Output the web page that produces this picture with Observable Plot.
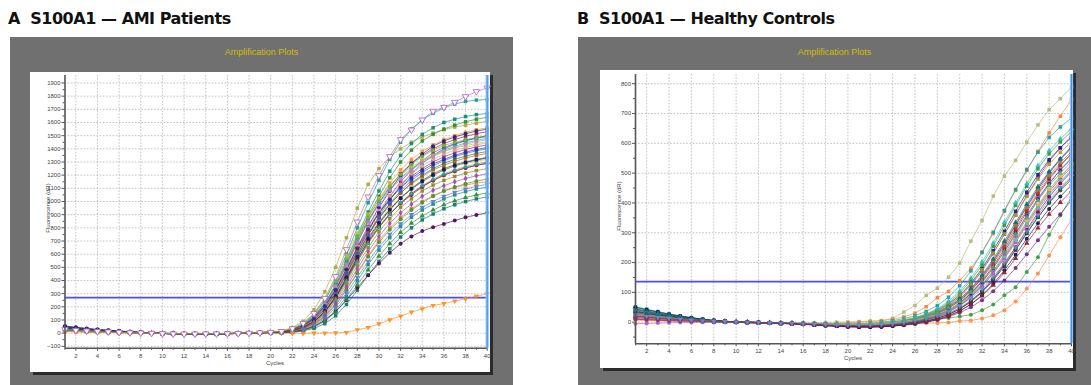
<!DOCTYPE html>
<html><head><meta charset="utf-8">
<script src="https://cdn.jsdelivr.net/npm/d3@7"></script>
<script src="https://cdn.jsdelivr.net/npm/@observablehq/plot@0.6"></script>
<style>
body{margin:0;width:1091px;height:385px;overflow:hidden;background:#fff;position:relative;font-family:"Liberation Sans",Arial,sans-serif;}
.title{position:absolute;font-family:"DejaVu Sans",sans-serif;font-weight:bold;font-size:16px;line-height:20px;color:#111;white-space:pre;letter-spacing:-0.45px;}
.frame{position:absolute;background:#707070;}
.ftitle{position:absolute;text-align:center;color:#d2bd00;font-size:9px;line-height:10px;}
.box{position:absolute;background:#fff;box-shadow:3px 3px 0 #2b2b2b;}
.box svg{display:block;}
.ylab{position:absolute;font-size:6px;color:#444;transform:translate(-50%,-50%) rotate(-90deg);white-space:nowrap;}
.xlab{position:absolute;font-size:6px;color:#444;transform:translate(-50%,-50%);white-space:nowrap;}
</style></head><body>
<div class="title" style="left:8px;top:9px">A  S100A1 — AMI Patients</div>
<div class="title" style="left:577px;top:9px">B  S100A1 — Healthy Controls</div>
<div class="frame" style="left:10px;top:37px;width:503px;height:348px"></div>
<div class="frame" style="left:578px;top:37px;width:513px;height:348px"></div>
<div class="ftitle" style="left:10px;width:503px;top:47px">Amplification Plots</div>
<div class="ftitle" style="left:578px;width:513px;top:47px">Amplification Plots</div>
<div class="box" id="boxA" style="left:30px;top:72px;width:460px;height:300px"></div>
<div class="box" id="boxB" style="left:600px;top:70px;width:473px;height:298px"></div>
<div class="ylab" style="left:48px;top:208px">Fluorescence (dR)</div>
<div class="ylab" style="left:619px;top:206px">Fluorescence (dR)</div>
<div class="xlab" style="left:275px;top:363px">Cycles</div>
<div class="xlab" style="left:853px;top:358px">Cycles</div>
<script>
const cycles = [1,2,3,4,5,6,7,8,9,10,11,12,13,14,15,16,17,18,19,20,21,22,23,24,25,26,27,28,29,30,31,32,33,34,35,36,37,38,39,40];
const xTickLabels = [2,4,6,8,10,12,14,16,18,20,22,24,26,28,30,32,34,36,38,40];
const xMinorTicks = [1,3,5,7,9,11,13,15,17,19,21,23,25,27,29,31,33,35,37,39];

// Panel A: AMI patients
const yTicksA = [-100,0,100,200,300,400,500,600,700,800,900,1000,1100,1200,1300,1400,1500,1600,1700,1800,1900];
const yMinorA = [-50,50,150,250,350,450,550,650,750,850,950,1050,1150,1250,1350,1450,1550,1650,1750,1850];
const yDomainA = [-115, 1957];
const thresholdA = 270;
const ampA = [
[28,22,17,13,10,7,4,2,0,-3,-5,-6,-6,-5,-5,-4,-2,0,3,7,14,34,75,150,265,430,635,845,1035,1197,1342,1471,1544,1620,1686,1716,1754,1797,1835,1863],
[45,38,31,25,19,14,9,5,2,-2,-4,-6,-6,-6,-5,-4,-2,1,4,8,13,32,70,140,248,405,600,800,990,1160,1320,1450,1550,1620,1670,1710,1740,1760,1770,1775],
[22,18,14,11,8,6,4,2,0,-2,-4,-5,-5,-5,-4,-3,-1,1,5,10,18,42,90,178,315,500,725,950,1130,1250,1340,1400,1450,1490,1520,1545,1565,1580,1595,1610],
[35,29,24,19,15,11,7,4,1,-2,-4,-6,-7,-6,-5,-4,-2,0,3,7,12,30,64,128,228,370,550,740,920,1080,1230,1350,1440,1510,1560,1600,1625,1645,1660,1668],
[30,25,20,16,12,9,6,3,1,-2,-4,-5,-6,-5,-5,-4,-2,0,3,7,11,28,60,122,218,355,530,715,890,1040,1180,1300,1390,1460,1510,1550,1580,1605,1625,1640],
[18,15,12,9,7,5,3,1,0,-2,-3,-4,-4,-4,-3,-2,-1,1,4,8,12,30,63,126,222,358,528,705,870,1015,1140,1240,1320,1380,1430,1470,1500,1525,1545,1560],
[55,45,36,28,22,16,11,6,2,-1,-4,-5,-6,-5,-4,-3,-1,1,4,8,11,27,58,116,206,330,485,650,810,955,1080,1200,1290,1360,1420,1460,1490,1515,1535,1550],
[40,33,27,21,16,12,8,4,1,-2,-5,-6,-7,-6,-5,-4,-2,0,3,7,12,29,62,124,220,352,515,685,850,990,1110,1210,1290,1350,1400,1440,1470,1495,1515,1530],
[25,21,17,13,10,7,4,2,0,-3,-5,-6,-6,-6,-5,-4,-2,0,3,6,9,22,48,98,180,298,450,615,775,915,1040,1150,1240,1310,1370,1410,1440,1465,1485,1500],
[20,17,14,11,8,6,4,2,0,-2,-3,-4,-5,-4,-4,-3,-1,1,4,9,14,34,72,142,250,395,565,735,885,1010,1115,1205,1280,1340,1390,1425,1450,1470,1485,1495],
[32,27,22,17,13,9,6,3,1,-2,-4,-6,-7,-7,-6,-4,-2,0,2,5,8,19,42,86,160,270,415,580,745,890,1010,1120,1210,1290,1350,1400,1435,1460,1480,1495],
[16,13,10,8,6,4,3,1,0,-2,-3,-4,-4,-4,-3,-2,-1,1,4,8,12,29,62,122,215,345,500,660,805,930,1040,1130,1210,1270,1320,1360,1390,1410,1430,1445],
[38,32,26,20,15,11,7,4,1,-2,-4,-6,-6,-6,-5,-3,-1,1,3,7,10,25,54,108,194,315,465,625,780,910,1020,1110,1190,1250,1300,1340,1370,1395,1415,1430],
[24,20,16,13,10,7,4,2,0,-3,-5,-6,-7,-6,-5,-4,-2,0,2,6,9,23,50,100,182,298,445,600,745,875,985,1080,1160,1220,1270,1310,1340,1365,1385,1400],
[34,28,23,18,14,10,6,3,1,-2,-4,-5,-6,-6,-5,-3,-1,1,3,7,10,24,52,104,186,302,448,600,745,870,975,1065,1140,1200,1250,1290,1320,1345,1365,1380],
[20,17,13,10,8,6,4,2,0,-2,-4,-5,-5,-5,-4,-3,-1,1,4,8,11,27,58,115,204,326,475,625,760,880,980,1065,1135,1190,1240,1275,1305,1330,1350,1365],
[50,42,34,27,21,15,10,5,2,-1,-3,-5,-6,-6,-5,-3,-1,1,4,7,8,20,44,90,168,282,425,580,720,840,940,1025,1095,1150,1200,1240,1270,1295,1315,1330],
[14,12,9,7,5,4,2,1,0,-2,-3,-4,-4,-4,-3,-2,-1,1,3,7,9,22,48,96,176,292,438,590,730,850,950,1030,1100,1155,1200,1240,1270,1290,1305,1320],
[28,23,19,15,11,8,5,3,1,-2,-4,-5,-6,-5,-5,-3,-2,0,2,5,7,17,38,78,148,252,390,540,680,800,900,990,1060,1120,1170,1210,1240,1265,1285,1300],
[42,35,28,22,17,12,8,4,1,-2,-4,-6,-7,-6,-5,-4,-2,0,3,6,8,20,43,88,164,274,412,560,695,810,905,985,1050,1110,1160,1200,1230,1255,1275,1290],
[22,18,15,12,9,6,4,2,0,-2,-4,-5,-5,-5,-4,-3,-1,0,3,6,7,17,37,76,142,242,372,515,650,770,870,955,1020,1080,1125,1160,1190,1215,1235,1250],
[30,25,20,16,12,9,6,3,1,-2,-4,-5,-6,-6,-5,-3,-2,0,2,5,6,15,34,70,132,226,350,488,620,735,835,915,980,1040,1085,1120,1150,1175,1195,1210],
[26,22,18,14,11,8,5,3,1,-1,-3,-5,-5,-5,-4,-3,-1,1,3,6,6,14,32,66,124,212,328,455,580,690,785,865,935,990,1040,1080,1110,1135,1155,1170],
[18,15,12,9,7,5,3,2,0,-2,-3,-4,-5,-4,-4,-3,-1,0,2,5,5,12,28,58,112,195,305,425,545,655,750,830,900,955,1000,1040,1070,1095,1115,1130],
[36,30,24,19,14,10,7,4,1,-2,-4,-6,-7,-7,-6,-4,-2,0,2,4,4,10,23,50,98,174,278,398,520,630,725,810,880,935,980,1020,1050,1075,1095,1110],
[24,20,16,13,10,7,4,2,0,-2,-4,-5,-6,-5,-5,-3,-2,0,2,4,4,9,21,45,90,160,255,365,480,585,680,765,835,890,935,975,1005,1030,1050,1065],
[30,25,20,16,12,9,6,3,1,-2,-4,-6,-7,-6,-5,-4,-2,-1,1,3,3,7,16,36,72,132,218,325,440,545,640,730,800,860,905,945,975,1000,1020,1035],
[12,10,8,6,5,3,2,1,0,-2,-3,-4,-4,-4,-3,-2,-1,0,2,5,6,14,31,64,124,214,332,462,590,705,800,880,945,1000,1045,1080,1105,1125,1140,1150],
[48,40,32,25,19,14,9,5,2,-1,-3,-5,-6,-6,-5,-4,-2,0,2,4,4,10,24,52,98,165,250,345,440,530,610,680,735,775,805,830,855,880,898,914],
[16,13,11,9,7,5,3,1,0,-2,-3,-4,-4,-4,-3,-3,-2,-1,0,1,0,-1,-1,0,1,3,5,26,43,71,101,129,160,185,210,225,243,261,279,299],
[22,18,15,12,9,6,4,2,0,-2,-4,-5,-5,-5,-4,-3,-1,1,4,8,12,29,62,124,220,355,520,690,845,975,1085,1170,1240,1295,1340,1380,1410,1435,1455,1470],
[27,23,18,14,11,8,5,3,1,-2,-4,-5,-6,-5,-5,-3,-1,1,4,8,12,30,64,128,226,362,530,705,860,990,1095,1180,1250,1305,1350,1390,1420,1445,1465,1480],
[40,33,27,21,16,12,8,4,1,-2,-4,-6,-7,-6,-5,-4,-2,0,2,6,8,19,42,86,160,270,410,560,705,830,935,1025,1100,1160,1210,1250,1280,1300,1320,1335],
[44,37,30,24,18,13,9,5,2,-1,-3,-5,-6,-5,-5,-3,-1,1,4,8,11,27,58,116,206,330,485,645,790,915,1015,1105,1175,1235,1285,1320,1350,1375,1395,1410],
[20,17,14,11,8,6,4,2,0,-2,-4,-5,-5,-5,-4,-3,-1,1,3,6,8,19,42,85,158,266,402,548,685,805,905,990,1060,1115,1160,1200,1230,1255,1275,1290],
[15,13,10,8,6,4,3,1,0,-2,-3,-4,-4,-4,-3,-2,0,2,5,10,15,36,76,150,262,415,590,760,905,1025,1125,1200,1265,1310,1350,1380,1405,1425,1440,1455]
];
const colorsA = ["#b469c8","#169c8c","#a8a832","#0e8a7a","#2e8b2e","#ff8c1a","#1c1c8c","#8b1a3a","#b0208a","#6cb83c","#0a6a6a","#d8a868","#7a2a9a","#3a5ad0","#1a7a1a","#b05a20","#10107a","#ffa040","#30a8a0","#7a0a2a","#8a8a20","#9a4ab0","#3a9a3a","#5a7ad8","#178a8a","#2a8a2a","#0a7a6a","#f07a10","#4b0a5a","#ff8c1a","#c080d0","#20b0b0","#1a5a1a","#2a2aa0","#a03020","#b8c040"];
const symbolsA = ["tridownOpen","square","square","square","square","square","circle","square","square","circle","square","circle","square","circle","square","square","circle","square","triangle","circle","square","diamond","circle","tridown","square","triangle","square","square","circle","tridown","circle","square","square","circle","circle","square"];

// Panel B: healthy controls
const yTicksB = [0,100,200,300,400,500,600,700,800];
const yMinorB = [-50,50,150,250,350,450,550,650,750];
const yDomainB = [-72.5, 831];
const thresholdB = 136;
const ampB = [
[20,16,12,9,7,5,4,3,2,1,0,-1,-1,-2,-2,-2,-2,-1,0,1,2,4,5,13,34,56,90,114,151,198,272,341,423,490,543,604,662,713,750,789],
[10,8,6,5,4,3,2,1,0,0,-1,-2,-3,-4,-5,-6,-6,-5,-4,-2,0,2,5,10,18,30,52,82,103,140,181,235,297,372,442,509,573,635,691,747],
[28,22,17,13,10,7,5,3,1,0,-1,-2,-3,-4,-5,-6,-7,-8,-8,-8,-8,-7,-6,-5,-3,0,4,9,14,19,25,40,59,90,117,168,218,293,358,420],
[8,6,5,4,3,2,1,0,0,-1,-2,-3,-4,-5,-6,-6,-6,-6,-6,-6,-6,-6,-5,-5,-4,-4,-3,-3,-1,4,6,12,23,40,69,112,163,224,285,344],
[52,44,36,28,21,15,10,6,3,1,0,-1,-2,-3,-3,-4,-5,-6,-6,-6,-5,-3,0,5,12,22,36,56,84,122,172,234,302,375,445,512,570,620,655,685],
[40,34,28,22,17,12,8,5,2,0,-1,-2,-3,-4,-4,-5,-6,-7,-7,-7,-6,-5,-2,2,8,16,28,45,70,104,148,202,265,335,400,465,525,575,615,650],
[30,25,20,16,12,9,6,4,2,1,0,-1,-2,-3,-4,-5,-6,-8,-9,-10,-11,-10,-8,-5,0,8,19,34,55,85,124,172,230,295,360,425,485,540,585,625],
[22,18,14,11,8,6,4,2,1,0,-1,-2,-3,-4,-5,-6,-8,-10,-12,-13,-14,-14,-12,-9,-4,3,13,27,46,72,106,150,202,262,325,388,448,502,548,590],
[35,29,24,19,14,10,7,4,2,1,0,-1,-2,-3,-4,-5,-6,-7,-8,-9,-9,-8,-6,-2,4,12,23,38,60,90,130,180,240,305,372,436,495,545,585,620],
[26,22,18,14,11,8,5,3,1,0,-1,-2,-3,-4,-5,-7,-9,-11,-13,-14,-15,-15,-13,-10,-6,0,9,22,40,64,96,138,188,246,308,370,428,480,525,565],
[45,38,31,25,19,14,9,6,3,1,0,-1,-2,-3,-4,-5,-6,-7,-8,-8,-8,-7,-5,-1,5,14,26,42,65,97,140,192,255,325,392,456,515,565,605,640],
[18,15,12,10,8,6,4,2,1,0,-1,-2,-3,-4,-5,-6,-7,-8,-9,-10,-10,-9,-7,-4,1,8,18,31,50,76,110,154,206,265,328,390,448,500,545,585],
[25,21,17,13,10,7,5,3,2,1,0,-1,-2,-3,-4,-4,-5,-6,-6,-7,-7,-6,-4,0,6,14,25,40,61,90,128,176,232,296,360,422,480,530,570,605],
[38,32,26,21,16,12,8,5,3,1,0,-1,-2,-3,-4,-5,-6,-7,-8,-9,-9,-8,-6,-3,2,9,19,32,51,78,113,158,212,272,335,396,455,505,548,585],
[-5,-4,-3,-2,-1,-1,0,0,0,0,-1,-2,-3,-4,-5,-6,-8,-10,-12,-14,-15,-15,-14,-11,-7,-1,7,18,34,56,86,125,172,228,288,350,410,465,512,552],
[12,10,8,6,5,4,3,2,1,0,-1,-2,-3,-4,-5,-6,-7,-8,-9,-10,-10,-10,-8,-5,0,7,16,29,47,72,105,147,197,255,316,376,434,485,528,565],
[30,25,20,16,12,9,6,4,2,1,0,-1,-2,-3,-4,-5,-6,-7,-8,-8,-8,-7,-5,-2,3,10,20,33,52,78,112,155,206,264,325,385,442,492,535,572],
[42,35,28,22,17,12,8,5,3,1,0,-1,-2,-3,-4,-5,-7,-9,-11,-12,-12,-12,-10,-7,-3,3,12,24,41,64,95,134,182,238,298,358,415,466,510,548],
[20,17,14,11,8,6,4,3,2,1,0,-1,-2,-3,-3,-4,-5,-6,-7,-7,-7,-6,-4,-1,4,11,20,32,48,70,100,138,184,237,295,352,408,458,500,538],
[16,13,11,9,7,5,4,2,1,0,-1,-2,-3,-4,-5,-6,-7,-9,-10,-11,-12,-11,-10,-7,-3,2,10,20,35,56,84,120,164,216,272,330,386,438,482,520],
[48,40,33,26,20,15,10,6,3,1,0,-1,-2,-3,-4,-5,-6,-7,-8,-9,-9,-8,-7,-4,0,6,14,25,40,61,90,126,170,222,278,336,392,444,488,525],
[32,27,22,17,13,9,6,4,2,0,-1,-2,-3,-4,-5,-7,-9,-12,-14,-16,-17,-17,-16,-13,-9,-4,3,13,26,44,70,104,146,196,252,310,368,420,465,505],
[6,5,4,3,3,2,2,1,1,0,-1,-2,-3,-4,-4,-5,-6,-6,-7,-7,-7,-6,-5,-2,2,8,16,27,42,63,92,128,172,224,280,338,394,445,490,530],
[36,30,24,19,14,10,7,4,2,0,-1,-2,-3,-4,-5,-7,-9,-11,-13,-14,-15,-15,-14,-12,-8,-3,4,13,26,44,68,100,140,188,242,298,352,402,446,485],
[24,20,16,13,10,7,5,3,2,1,0,-1,-2,-3,-4,-5,-6,-7,-8,-9,-9,-9,-7,-5,-1,5,12,22,36,55,80,112,152,200,252,306,360,410,452,490],
[44,37,30,24,18,13,9,5,3,1,0,-1,-2,-3,-4,-5,-6,-8,-10,-11,-11,-11,-10,-8,-4,1,8,17,30,48,72,104,144,192,245,300,352,400,442,478],
[14,12,10,8,6,5,3,2,1,0,-1,-2,-3,-4,-5,-6,-7,-8,-9,-10,-10,-10,-9,-6,-2,4,12,23,38,58,85,120,163,213,268,324,378,428,470,508],
[50,42,34,27,21,15,10,6,3,1,0,-1,-2,-3,-5,-7,-9,-11,-13,-15,-16,-16,-15,-13,-10,-6,0,8,20,37,60,90,128,174,226,280,332,380,422,460],
[30,25,20,16,12,9,6,4,2,1,0,-1,-2,-3,-4,-5,-6,-7,-8,-8,-8,-7,-6,-3,1,7,15,26,41,62,90,126,170,220,275,330,384,432,474,510],
[20,17,14,11,9,7,5,3,2,1,0,-1,-2,-3,-4,-6,-8,-10,-12,-13,-14,-14,-13,-11,-8,-4,2,10,22,38,60,88,124,166,214,265,316,362,402,440],
[10,8,7,5,4,3,2,1,1,0,-1,-2,-3,-4,-5,-6,-8,-10,-12,-13,-14,-14,-13,-11,-8,-4,1,8,18,32,50,74,104,140,182,228,275,320,362,410]
];
const colorsB = ["#b5b57c","#ff7f2a","#3a9a3a","#ff8c3a","#17a0a0","#30b8c8","#8a2aa0","#c02090","#1a1a8a","#8a1a2a","#2a9a2a","#4060d0","#a0a020","#0a7070","#a060c0","#d02828","#8a8a30","#2a2aa8","#50b050","#a05a2a","#30a090","#7a0a3a","#ffb060","#4b0a5a","#6a8ae0","#1a6a1a","#d050b0","#10105a","#60c0b0","#902020","#6a2a8a"];
const symbolsB = ["square","square","circle","circle","square","triangle","square","circle","square","square","square","circle","square","triangle","circle","square","circle","circle","triangle","square","square","circle","square","square","tridown","circle","square","circle","square","triangle","circle"];

const triDown = {draw(ctx, size) {
  const y = -Math.sqrt(size / (Math.sqrt(3) * 3));
  ctx.moveTo(0, -y * 2);
  ctx.lineTo(-Math.sqrt(3) * y, y);
  ctx.lineTo(Math.sqrt(3) * y, y);
  ctx.closePath();
}};
const symbolMap = {square: "square", circle: "circle", triangle: "triangle", diamond: "diamond", tridown: triDown, tridownOpen: triDown};
const plainNumber = d3.format("d");

function chart(series, colors, symbols, cfg) {
  const pts = series.flatMap((vals, i) => vals.map((v, j) => ({id: i, cycle: cycles[j], value: v, color: colors[i], sym: symbols[i]})));
  const dotMarks = Object.keys(symbolMap).map(s => {
    const sub = pts.filter(d => d.sym === s);
    if (!sub.length) return null;
    if (s === "tridownOpen") return Plot.dot(sub, {x: "cycle", y: "value", symbol: symbolMap[s], r: 2.4, fill: "white", stroke: "color", strokeWidth: 0.9});
    return Plot.dot(sub, {x: "cycle", y: "value", symbol: symbolMap[s], r: 2.0, fill: "color", fillOpacity: 0.92});
  }).filter(Boolean);
  return Plot.plot({
    width: cfg.width, height: cfg.height,
    marginLeft: cfg.ml, marginRight: cfg.mr, marginTop: cfg.mt, marginBottom: cfg.mb,
    x: {domain: [cycles[0], cycles[cycles.length - 1]], label: null},
    y: {domain: cfg.yDomain, label: null},
    color: {type: "identity"},
    style: {background: "white", fontFamily: "Liberation Sans, Arial, sans-serif", fontSize: "6px", color: "#444", overflow: "visible"},
    marks: [
      Plot.gridX(xTickLabels, {stroke: "#b4b4b4", strokeOpacity: 1, strokeWidth: 0.8, strokeDasharray: "1.6,1.6"}),
      Plot.gridY(cfg.yTicks, {stroke: "#b4b4b4", strokeOpacity: 1, strokeWidth: 0.8, strokeDasharray: "1.6,1.6"}),
      Plot.axisY(cfg.yMinor, {tickSize: 2, tickFormat: () => "", stroke: "#555"}),
      Plot.axisY(cfg.yTicks, {tickSize: 3, tickPadding: 1.5, tickFormat: plainNumber, stroke: "#555", fill: "#444"}),
      Plot.axisX(xMinorTicks, {tickSize: 2, tickFormat: () => "", stroke: "#555"}),
      Plot.axisX(xTickLabels, {tickSize: 3, tickPadding: 2, tickFormat: plainNumber, stroke: "#555", fill: "#444"}),
      Plot.ruleY([cfg.threshold], {stroke: "#4b4bff", strokeWidth: 1.8}),
      Plot.line(pts, {x: "cycle", y: "value", z: "id", stroke: "color", strokeWidth: 1, strokeOpacity: 0.65}),
      ...dotMarks,
      Plot.ruleX([cycles[cycles.length - 1]], {stroke: "#8cc4ff", strokeWidth: 3.2}),
      Plot.ruleX([cycles[cycles.length - 1]], {stroke: "#3d8fe8", strokeWidth: 1}),
      Plot.ruleX([cycles[0]], {stroke: "#555", strokeWidth: 1.6}),
      Plot.ruleY([cfg.yDomain[0]], {stroke: "#555", strokeWidth: 1.6})
    ]
  });
}

document.getElementById("boxA").append(chart(ampA, colorsA, symbolsA, {
  width: 460, height: 300, ml: 34.5, mr: 3.3, mt: 3, mb: 24.2,
  yDomain: yDomainA, yTicks: yTicksA, yMinor: yMinorA, threshold: thresholdA
}));
document.getElementById("boxB").append(chart(ampB, colorsB, symbolsB, {
  width: 473, height: 298, ml: 35, mr: 2, mt: 4, mb: 24.7,
  yDomain: yDomainB, yTicks: yTicksB, yMinor: yMinorB, threshold: thresholdB
}));
</script>
</body></html>
